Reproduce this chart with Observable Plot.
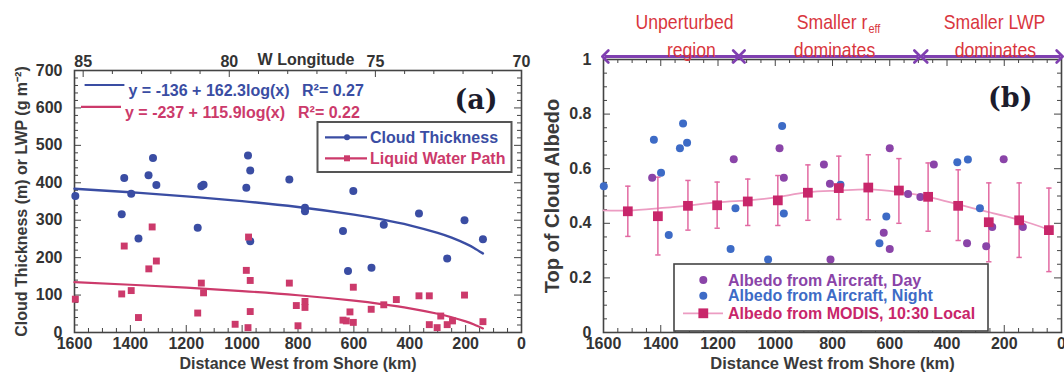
<!DOCTYPE html>
<html><head><meta charset="utf-8">
<script src="https://cdn.jsdelivr.net/npm/d3@7"></script>
<script src="https://cdn.jsdelivr.net/npm/@observablehq/plot@0.6"></script>
<style>
body{margin:0;background:#fff;}
#wrap{position:relative;width:1064px;height:373px;overflow:hidden;background:#fff;}
.panel{position:absolute;top:0;}
#ov{position:absolute;left:0;top:0;pointer-events:none;}
</style></head><body><div id="wrap"></div>
<script>
// ---------- Panel (a) data ----------
const ctKm  = [1597,1431,1422,1397,1371,1335,1319,1307,1159,1146,1138,979,971,985,971,831,775,775,639,621,602,537,493,367,266,204,138];
const ctVal = [365,316,413,371,251,420,466,394,280,391,395,473,433,387,244,409,333,324,271,164,378,173,288,318,198,300,249];
const lwpKm  = [1597,1431,1422,1397,1371,1334,1322,1307,1159,1146,1138,1025,985,979,977,971,971,831,806,800,775,775,639,627,614,602,602,538,493,448,367,330,330,302,289,266,247,204,138];
const lwpVal = [89,103,231,112,40,170,282,191,52,132,106,22,166,13,255,139,56,132,72,18,83,67,33,31,55,27,121,62,74,88,98,98,21,13,44,21,31,100,29];
// fitted curves (values of the printed log fits read at these distances)
const fitKm  = [1600,1400,1200,1000,800,600,500,400,300,250,200,170,138];
const ctFit  = [384,374.6,363.8,350.9,335.2,314.9,302.1,286.3,266.0,253.2,237.5,226.0,211.3];
const lwpFit = [134.4,127.6,119.9,110.7,99.5,85.0,75.8,64.6,50.1,40.9,29.7,21.5,11.0];
const lonMajor = [85,80,75,70];
const kmPerDeg = 104.6;
const eqTexts = ["y = -136 + 162.3log(x)", "y = -237 + 115.9log(x)"];
const r2Texts = ["R\u00b2= 0.27", "R\u00b2= 0.22"];
const legendA = ["Cloud Thickness", "Liquid Water Path"];

// ---------- Panel (b) data ----------
const dayKm  = [1430,1145,985,970,830,809,807,600,621,600,536,493,446,330,263,242,202,135];
const dayVal = [0.567,0.635,0.675,0.567,0.615,0.545,0.267,0.675,0.365,0.306,0.507,0.496,0.615,0.327,0.316,0.386,0.635,0.386];
const nightKm  = [1599,1424,1399,1372,1333,1322,1308,1156,1139,1025,976,970,772,636,612,364,327,285];
const nightVal = [0.536,0.706,0.585,0.357,0.675,0.766,0.695,0.306,0.455,0.267,0.756,0.436,0.541,0.327,0.425,0.624,0.634,0.455];
const modisKm  = [1515,1410,1305,1203,1096,991,886,778,675,568,466,361,254,148,44];
const modisVal = [0.444,0.426,0.464,0.466,0.480,0.484,0.512,0.529,0.531,0.520,0.497,0.464,0.404,0.411,0.375];
const modisHi  = [0.536,0.569,0.557,0.551,0.562,0.575,0.614,0.646,0.651,0.637,0.621,0.596,0.548,0.548,0.529];
const modisLo  = [0.352,0.284,0.375,0.382,0.392,0.392,0.411,0.414,0.413,0.400,0.371,0.337,0.259,0.275,0.223];
const modisFitKm  = [1600,1515,1410,1305,1203,1096,991,886,778,675,568,466,361,254,148,44];
const modisFitVal = [0.447,0.447,0.455,0.465,0.477,0.484,0.496,0.514,0.520,0.524,0.514,0.497,0.469,0.441,0.413,0.377];
const yTicksB = [0,0.2,0.4,0.6,0.8,1];
const regionFrom = [1597,1121,483];
const regionTo   = [1133,500,3];
const annText = ["Unperturbed","region","dominates","Smaller LWP","dominates"];
const annKm   = [1317,1293,793,234,231];
const annRow  = [0,1,1,0,1];
const reffKm  = 678;
const legendB = ["Albedo from Aircraft, Day","Albedo from Aircraft, Night","Albedo from MODIS, 10:30 Local"];

// ---------- styling ----------
const FONT = '"Liberation Sans", Arial, Helvetica, sans-serif';
const NARROW = '"Liberation Sans Narrow", "Arial Narrow", "Liberation Sans", sans-serif';
const BLUE_L = "#3a4da3", RED_L = "#cc3a6b";
const PURPLE = "#8a44a8", NIGHT = "#3d6bc6", MODIS = "#c8266a", ERR = "#e26aa2", FITPINK = "#ec9cc2";
const ANN = "#d9363e", ARROW = "#7f3fb0", AX = "#444";

const rows = (ks, vs) => ks.map((km, i) => ({km, v: vs[i]}));
const baseStyle = {fontFamily: FONT, fontSize: "16px", fontWeight: "bold", color: "#333", background: "transparent", overflow: "visible"};

function frameTicks(FW, FH, xMaj, xMin, yMaj, yMin, topMaj, topMin) {
  const t = [];
  const tx = (vals, len, side) => Plot.tickX(vals, {x: d => d, stroke: AX, strokeWidth: 1, [side === "bottom" ? "insetTop" : "insetBottom"]: FH - len});
  const ty = (vals, len, side) => Plot.tickY(vals, {y: d => d, stroke: AX, strokeWidth: 1, [side === "left" ? "insetRight" : "insetLeft"]: FW - len});
  t.push(tx(xMaj, 7, "bottom"), tx(xMin, 4, "bottom"));
  t.push(tx(topMaj, 7, "top"), tx(topMin, 4, "top"));
  t.push(ty(yMaj, 7, "left"), ty(yMin, 4, "left"), ty(yMaj, 7, "right"), ty(yMin, 4, "right"));
  return t;
}

// open chevron arrow head used for the region arrows
function chevron(color, context) {
  const doc = (context && context.document) || document;
  const NS = "http://www.w3.org/2000/svg";
  const m = doc.createElementNS(NS, "marker");
  m.setAttribute("viewBox", "-8 -8 16 16");
  m.setAttribute("markerWidth", 16);
  m.setAttribute("markerHeight", 16);
  m.setAttribute("markerUnits", "userSpaceOnUse");
  m.setAttribute("orient", "auto-start-reverse");
  m.setAttribute("fill", "none");
  m.setAttribute("stroke", color);
  m.setAttribute("stroke-width", 2.6);
  m.setAttribute("stroke-linecap", "round");
  m.setAttribute("stroke-linejoin", "round");
  const p = doc.createElementNS(NS, "path");
  p.setAttribute("d", "M-4,-6L2,0L-4,6");
  m.appendChild(p);
  return m;
}

// ---------- Panel (a) ----------
const A = {w: 532, h: 373, ml: 74, mr: 11, mt: 70, mb: 41};
const AFW = A.w - A.ml - A.mr, AFH = A.h - A.mt - A.mb;
const xMajA = d3.range(0, 1601, 200), xMinA = d3.range(0, 1601, 50).filter(d => d % 200);
const yMajA = d3.range(0, 701, 100), yMinA = d3.range(0, 701, 20).filter(d => d % 100);
const lonKm = l => (l - 70) * kmPerDeg;
const topMajA = lonMajor.map(lonKm);
const topMinA = d3.range(70, 86).filter(l => l % 5).map(lonKm);

const plotA = Plot.plot({
  width: A.w, height: A.h, marginLeft: A.ml, marginRight: A.mr, marginTop: A.mt, marginBottom: A.mb,
  style: baseStyle,
  x: {domain: [1600, 0]},
  y: {domain: [0, 700]},
  marks: [
    ...frameTicks(AFW, AFH, xMajA, xMinA, yMajA, yMinA, topMajA, topMinA),
    Plot.frame({stroke: AX, strokeWidth: 1.6}),
    Plot.axisX(xMajA, {anchor: "bottom", tickSize: 0, tickPadding: 5, tickFormat: d3.format("d"), label: null}),
    Plot.axisX(topMajA, {anchor: "top", tickSize: 0, tickPadding: 4, tickFormat: d => String(Math.round(70 + d / kmPerDeg)), label: null}),
    Plot.axisY(yMajA, {anchor: "left", tickSize: 0, tickPadding: 12, tickFormat: d3.format("d"), label: null}),
    Plot.text(["W Longitude"], {text: d => d, frameAnchor: "top", textAnchor: "middle", lineAnchor: "middle", dx: 8, dy: -11}),
    Plot.text(["Distance West from Shore (km)"], {text: d => d, frameAnchor: "bottom", textAnchor: "middle", lineAnchor: "middle", dy: 31, fill: "#3a3a3a"}),
    Plot.text(["Cloud Thickness (m) or LWP (g m\u207b\u00b2)"], {text: d => d, frameAnchor: "left", textAnchor: "middle", lineAnchor: "middle", rotate: -90, dx: -53, fill: "#3a3a3a"}),
    Plot.text(["(a)"], {text: d => d, frameAnchor: "top-right", textAnchor: "end", lineAnchor: "middle", dx: -24, dy: 30, fontFamily: '"DejaVu Serif", serif', fontSize: 27, fontWeight: "bold", fill: "#1c1c2c"}),
    Plot.line(rows(fitKm, ctFit), {x: "km", y: "v", stroke: BLUE_L, strokeWidth: 2.4, curve: "natural"}),
    Plot.line(rows(fitKm, lwpFit), {x: "km", y: "v", stroke: RED_L, strokeWidth: 2.2, curve: "natural"}),
    Plot.dot(rows(ctKm, ctVal), {x: "km", y: "v", r: 4, fill: BLUE_L}),
    Plot.dot(rows(lwpKm, lwpVal), {x: "km", y: "v", r: 3.9, symbol: "square", fill: RED_L})
  ]
});

// ---------- Panel (b) ----------
const B = {w: 532, h: 373, ml: 71, mr: 3, mt: 59, mb: 41};
const BFW = B.w - B.ml - B.mr, BFH = B.h - B.mt - B.mb;
const xMajB = d3.range(0, 1601, 200), xMinB = d3.range(0, 1601, 50).filter(d => d % 200);
const yMinB = d3.range(0, 21).filter(i => i % 4).map(i => i / 20);
const capSymbol = {draw(ctx, size) { const w = Math.sqrt(size) / 2; ctx.moveTo(-w, 0); ctx.lineTo(w, 0); }};
const modisRows = modisKm.map((km, i) => ({km, v: modisVal[i], hi: modisHi[i], lo: modisLo[i]}));
const annRows = annText.map((t, i) => ({t, km: annKm[i], row: annRow[i]}));
const regionRows = regionFrom.map((a, i) => ({a, b: regionTo[i]}));
const annStyle = {fontFamily: NARROW, fontWeight: "normal", fontSize: 21, fill: ANN, lineAnchor: "middle", className: "ann"};

const plotB = Plot.plot({
  width: B.w, height: B.h, marginLeft: B.ml, marginRight: B.mr, marginTop: B.mt, marginBottom: B.mb,
  style: baseStyle,
  x: {domain: [1600, 0]},
  y: {domain: [0, 1]},
  marks: [
    ...frameTicks(BFW, BFH, xMajB, xMinB, yTicksB, yMinB, xMajB, xMinB),
    Plot.frame({stroke: AX, strokeWidth: 1.6}),
    Plot.axisX(xMajB, {anchor: "bottom", tickSize: 0, tickPadding: 5, tickFormat: d3.format("d"), label: null}),
    Plot.axisY(yTicksB, {anchor: "left", tickSize: 0, tickPadding: 12, tickFormat: d => String(d), label: null}),
    Plot.text(["Distance West from Shore (km)"], {text: d => d, frameAnchor: "bottom", textAnchor: "middle", lineAnchor: "middle", dy: 31, fontSize: 16.5, fill: "#3a3a3a"}),
    Plot.text(["Top of Cloud Albedo"], {text: d => d, frameAnchor: "left", textAnchor: "middle", lineAnchor: "middle", rotate: -90, dx: -51, fontSize: 20, fill: "#3a3a3a"}),
    Plot.text(["(b)"], {text: d => d, frameAnchor: "top-right", textAnchor: "end", lineAnchor: "middle", dx: -29, dy: 39, fontFamily: '"DejaVu Serif", serif', fontSize: 27, fontWeight: "bold", fill: "#1c1c2c"}),
    // region annotations
    Plot.link(regionRows, {x1: "a", x2: "b", y1: () => 1, y2: () => 1, dy: -3, stroke: ARROW, strokeWidth: 3, markerStart: chevron, markerEnd: chevron}),
    Plot.text(annRows, {x: "km", y: () => 1, text: "t", filter: d => d.row === 0, dy: -37, ...annStyle}),
    Plot.text(annRows, {x: "km", y: () => 1, text: "t", filter: d => d.row === 1, dy: -9, ...annStyle}),
    Plot.text(["Smaller r"], {x: () => reffKm, y: () => 1, text: d => d, textAnchor: "end", dy: -37, ...annStyle}),
    Plot.text(["eff"], {x: () => reffKm, y: () => 1, text: d => d, textAnchor: "start", dy: -31, dx: 1, ...annStyle, fontSize: 13}),
    // MODIS
    Plot.line(rows(modisFitKm, modisFitVal), {x: "km", y: "v", stroke: FITPINK, strokeWidth: 1.8, curve: "natural"}),
    Plot.ruleX(modisRows, {x: "km", y1: "lo", y2: "hi", stroke: ERR, strokeWidth: 1.5}),
    Plot.dot(modisRows, {x: "km", y: "hi", symbol: capSymbol, r: 3, stroke: ERR, strokeWidth: 1.5, fill: "none"}),
    Plot.dot(modisRows, {x: "km", y: "lo", symbol: capSymbol, r: 3, stroke: ERR, strokeWidth: 1.5, fill: "none"}),
    Plot.dot(rows(dayKm, dayVal), {x: "km", y: "v", r: 4, fill: PURPLE}),
    Plot.dot(rows(nightKm, nightVal), {x: "km", y: "v", r: 4, fill: NIGHT}),
    Plot.dot(modisRows, {x: "km", y: "v", r: 5.5, symbol: "square", fill: MODIS})
  ]
});

const wrap = document.getElementById("wrap");
const pa = document.createElement("div"); pa.className = "panel"; pa.style.left = "0px"; pa.style.width = A.w + "px"; pa.appendChild(plotA); wrap.appendChild(pa);
const pb = document.createElement("div"); pb.className = "panel"; pb.style.left = "532px"; pb.style.width = B.w + "px"; pb.appendChild(plotB); wrap.appendChild(pb);

// condense the region annotation text (narrow face as in the original)
const annNodes = new Set([...plotB.querySelectorAll(".ann text"), ...plotB.querySelectorAll('g[fill="' + ANN + '"] text')]);
annNodes.forEach(t => {
  const L = t.getComputedTextLength();
  t.setAttribute("textLength", (L * 0.84).toFixed(1));
  t.setAttribute("lengthAdjust", "spacingAndGlyphs");
});

// ---------- legends / equations overlay ----------
const ns = "http://www.w3.org/2000/svg";
const ov = document.createElementNS(ns, "svg");
ov.setAttribute("id", "ov"); ov.setAttribute("width", 1064); ov.setAttribute("height", 373);
ov.setAttribute("font-family", FONT); ov.setAttribute("font-weight", "bold"); ov.setAttribute("font-size", 16);
function el(tag, attrs, text) { const e = document.createElementNS(ns, tag); for (const k in attrs) e.setAttribute(k, attrs[k]); if (text) e.textContent = text; ov.appendChild(e); return e; }
// equations (panel a)
const eqColors = [BLUE_L, RED_L];
[[84.6, 124.4, 85, 128.5, 90.8, 302], [81, 121, 106.8, 125, 112.3, 298]].forEach((p, i) => {
  el("line", {x1: p[0], x2: p[1], y1: p[2], y2: p[2], stroke: eqColors[i], "stroke-width": 2.2});
  el("text", {x: p[3], y: p[4] + 5.6, fill: eqColors[i]}, eqTexts[i]);
  el("text", {x: p[5], y: p[4] + 5.6, fill: eqColors[i]}, r2Texts[i]);
});
// legend (a)
el("rect", {x: 317.5, y: 122, width: 194, height: 50, fill: "#fff", stroke: "#555", "stroke-width": 2});
[137.3, 158.3].forEach((cy, i) => {
  el("line", {x1: 325, x2: 367, y1: cy, y2: cy, stroke: eqColors[i], "stroke-width": 2.2});
  if (i === 0) el("circle", {cx: 347, cy, r: 3, fill: eqColors[i]});
  else el("rect", {x: 344, y: cy - 3, width: 6, height: 6, fill: eqColors[i]});
  el("text", {x: 370, y: cy + 5.6, fill: eqColors[i]}, legendA[i]);
});
// legend (b)
el("rect", {x: 674, y: 264, width: 314, height: 67, fill: "#fff", stroke: "#444", "stroke-width": 1.6});
const lbColors = [PURPLE, NIGHT, MODIS];
[280, 295.7, 313.3].forEach((cy, i) => {
  if (i < 2) el("circle", {cx: 703.3, cy, r: 4, fill: lbColors[i]});
  else {
    el("line", {x1: 683, x2: 723, y1: cy, y2: cy, stroke: FITPINK, "stroke-width": 1.8});
    el("rect", {x: 698.4, y: cy - 4.9, width: 9.8, height: 9.8, fill: MODIS});
  }
  el("text", {x: 728, y: cy + 5.6, fill: lbColors[i]}, legendB[i]);
});
wrap.appendChild(ov);
</script>
</body></html>
